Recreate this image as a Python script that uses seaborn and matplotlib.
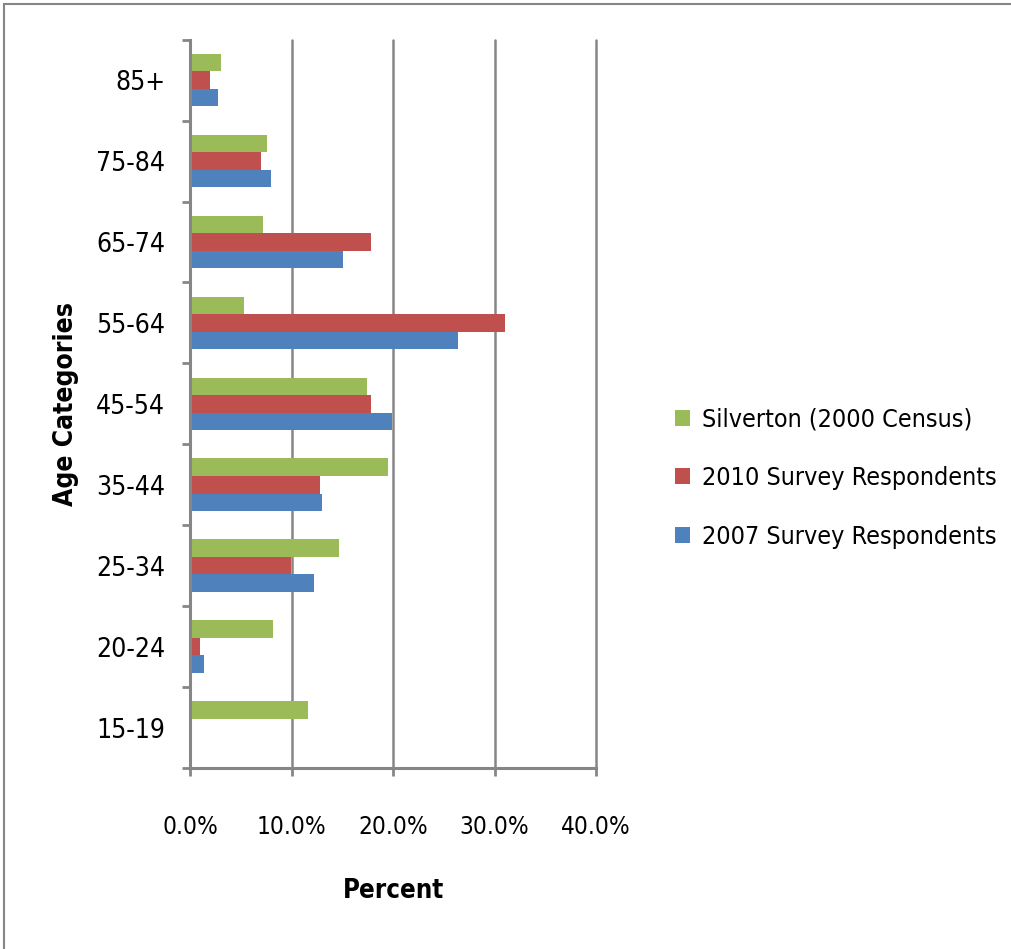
import numpy as np
import pandas as pd
import seaborn as sns
import matplotlib.pyplot as plt
from matplotlib.patches import Rectangle
from matplotlib.ticker import FuncFormatter, FixedLocator

# --- data ---
age_groups = ['85+', '75-84', '65-74', '55-64', '45-54', '35-44', '25-34', '20-24', '15-19']
series_names = ['Silverton (2000 Census)', '2010 Survey Respondents', '2007 Survey Respondents']
silverton_2000 = [3.0, 7.6, 7.2, 5.3, 17.4, 19.5, 14.7, 8.2, 11.6]
survey_2010 = [2.0, 7.0, 17.8, 31.0, 17.8, 12.8, 9.9, 1.0, 0.0]
survey_2007 = [2.8, 8.0, 15.1, 26.4, 19.9, 13.0, 12.2, 1.4, 0.0]
colors = ['#9BBB59', '#C0504D', '#4F81BD']

rows = []
for name, vals in zip(series_names, [silverton_2000, survey_2010, survey_2007]):
    for age, v in zip(age_groups, vals):
        rows.append({'age': age, 'series': name, 'pct': v})
df = pd.DataFrame(rows)

sns.set_style('white')
plt.rcParams['font.family'] = ['DejaVu Sans']
plt.rcParams['font.stretch'] = 'condensed'
plt.rcParams['text.color'] = 'black'
plt.rcParams['axes.labelcolor'] = 'black'
plt.rcParams['xtick.color'] = 'black'
plt.rcParams['ytick.color'] = 'black'

fig = plt.figure(figsize=(10.11, 9.49), dpi=100)
ax = fig.add_axes([0.188, 0.1907, 0.4016, 0.7675])

sns.barplot(data=df, x='pct', y='age', hue='series', order=age_groups,
            hue_order=series_names, palette=colors, orient='h',
            width=0.65, linewidth=0, saturation=1, ax=ax)

ax.set_xlim(0, 40)
ax.set_ylim(len(age_groups) - 0.5, -0.5)
ax.xaxis.set_major_locator(FixedLocator([0, 10, 20, 30, 40]))
ax.xaxis.set_major_formatter(FuncFormatter(lambda v, p: f'{v:.1f}%'))
ax.grid(axis='x', color='#868686', linewidth=1.8)
for gl in ax.get_xgridlines():
    gl.set_clip_on(False)
ax.set_axisbelow(True)

grey = '#868686'
for s in ['top', 'right']:
    ax.spines[s].set_visible(False)
for s in ['left', 'bottom']:
    ax.spines[s].set_color(grey)
    ax.spines[s].set_linewidth(2.2)

# category boundary ticks on the y axis
ax.yaxis.set_minor_locator(FixedLocator(np.arange(-0.5, len(age_groups), 1.0)))
ax.tick_params(axis='y', which='major', length=0, pad=18, labelsize=19)
ax.tick_params(axis='y', which='minor', left=True, length=6, width=2, color=grey)
ax.tick_params(axis='x', which='major', bottom=True, length=6, width=2, color=grey,
               pad=28, labelsize=17.5)

ax.set_xlabel('Percent', fontsize=18.5, fontweight='bold', labelpad=28)
ax.set_ylabel('Age Categories', fontsize=19, fontweight='bold', labelpad=12)

sns.move_legend(ax, loc='center left', bbox_to_anchor=(0.645, 0.4963),
                bbox_transform=fig.transFigure, frameon=False, title=None,
                fontsize=18, handlelength=0.6, handleheight=0.6,
                handletextpad=0.5, labelspacing=1.38)

# outer chart border
fig.add_artist(Rectangle((0.004, -0.1), 1.2, 1.0958, transform=fig.transFigure,
                         fill=False, edgecolor=grey, linewidth=1.5))

fig.savefig('out.png', dpi=100)
